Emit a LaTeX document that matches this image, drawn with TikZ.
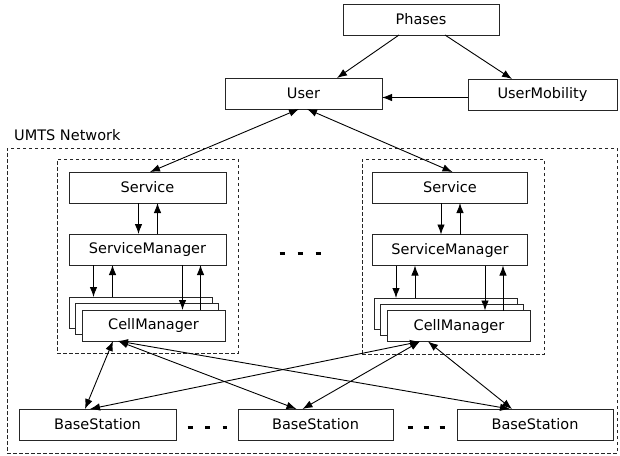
\documentclass[tikz,border=0pt]{standalone}
\usepackage{fontspec}
\setmainfont{DejaVu Sans}
\usetikzlibrary{arrows.meta,calc}
\begin{document}
\begin{tikzpicture}[x=1pt,y=-1pt,
  box/.style={draw=black!85,line width=0.8pt,fill=white,inner sep=0pt,outer sep=0pt,
    minimum height=31pt,font=\fontsize{14.5}{17}\selectfont},
  grp/.style={draw=black!85,line width=0.8pt,dash pattern=on 3.5pt off 2.5pt,
    inner sep=0pt,outer sep=0pt},
  tip/.tip={Latex[length=10pt,width=7.5pt]},
  arr/.style={line width=0.9pt,-tip},
  both/.style={line width=0.9pt,tip-tip},
  ell/.style={line width=3pt,dash pattern=on 5pt off 12.5pt}
]
\useasboundingbox (0,0) rectangle (620,455);
\fill[white] (0,0) rectangle (620,455);

% top
\node[box,minimum width=156pt] (phases) at (421,19.5) {Phases};
\node[box,minimum width=157pt] (user) at (303.5,93.5) {User};
\node[box,minimum width=149pt] (um) at (542.5,94.5) {UserMobility};

% network frame
\node[grp,minimum width=610pt,minimum height=305pt] (umts) at (312,300.5) {};
\node[anchor=west,inner sep=0pt,font=\fontsize{14.5}{17}\selectfont] (umtslabel) at (14,135) {UMTS Network};

% groups
\node[grp,minimum width=181pt,minimum height=194pt] (lgrp) at (147.5,256) {};
\node[grp,minimum width=182pt,minimum height=195pt] (rgrp) at (453,256.5) {};

% left column
\node[box,minimum width=157pt] (lserv) at (147.5,187.5) {Service};
\node[box,minimum width=157pt] (lsm) at (147.5,249.5) {ServiceManager};
\node[box,minimum width=143pt] (lcb) at (140.5,312.5) {};
\node[box,minimum width=143pt] (lcm) at (147,319) {};
\node[box,minimum width=143pt] (lcf) at (153.5,325.5) {CellManager};

% right column
\node[box,minimum width=155pt] (rserv) at (450,187.5) {Service};
\node[box,minimum width=155pt] (rsm) at (450,250) {ServiceManager};
\node[box,minimum width=143pt] (rcb) at (445.5,313.5) {};
\node[box,minimum width=143pt] (rcm) at (452,319.5) {};
\node[box,minimum width=143pt] (rcf) at (459,326) {CellManager};

% base stations
\node[box,minimum width=157pt] (bs1) at (97.5,424.5) {BaseStation};
\node[box,minimum width=155pt] (bs2) at (315.5,424.5) {BaseStation};
\node[box,minimum width=156pt] (bs3) at (535,424.5) {BaseStation};

% ellipses
\coordinate (e1a) at (279.5,253); \coordinate (e1b) at (320.5,253);
\coordinate (e2a) at (187.5,427); \coordinate (e2b) at (227,427);
\coordinate (e3a) at (407.5,427); \coordinate (e3b) at (447,427);
\draw[ell,dash pattern=on 5pt off 13pt] (e1a) -- (e1b);
\draw[ell] (e2a) -- (e2b);
\draw[ell,dash pattern=on 5pt off 11pt] (e3a) -- (e3b);

% top connectors
\draw[arr] ([xshift=-22pt]phases.south) -- ([xshift=33.5pt]user.north);
\draw[arr] ([xshift=24pt]phases.south) -- ([xshift=-30.5pt]um.north);
\draw[arr] ([yshift=-3pt]um.west) -- ([yshift=-3pt]um.west -| user.east);
\draw[both] ([xshift=-4.5pt]user.south) -- ([xshift=2.5pt]lserv.north);
\draw[both] ([xshift=3.5pt]user.south) -- ([xshift=2.5pt]rserv.north);

% internal connectors
\foreach \s in {l,r}{
  \draw[arr] ([xshift=-9pt]\s serv.south) -- ([xshift=-9pt]\s sm.north);
  \draw[arr] ([xshift=10pt]\s sm.north) -- ([xshift=10pt]\s serv.south);
  \draw[arr] ([xshift=-54pt]\s sm.south) -- ([xshift=-54pt]\s sm.south |- \s cb.north);
  \draw[arr] ([xshift=-35pt]\s sm.south |- \s cb.north) -- ([xshift=-35pt]\s sm.south);
  \draw[arr] ([xshift=35pt]\s sm.south) -- ([xshift=35pt]\s sm.south |- \s cf.north);
  \draw[arr] ([xshift=53pt]\s sm.south |- \s cf.north) -- ([xshift=53pt]\s sm.south);
}

% cell manager to base stations
\draw[both] ([xshift=-40.5pt]lcf.south) -- ([xshift=-12.5pt]bs1.north);
\draw[both] ([xshift=-35.5pt]lcf.south) -- ([xshift=-19pt]bs2.north);
\draw[both] ([xshift=-35.5pt]lcf.south) -- ([xshift=-25pt]bs3.north);
\draw[both] ([xshift=-39pt]rcf.south) -- ([xshift=-7.5pt]bs1.north);
\draw[both] ([xshift=-39pt]rcf.south) -- ([xshift=-13pt]bs2.north);
\draw[both] ([xshift=-31pt]rcf.south) -- ([xshift=-23pt]bs3.north);
\end{tikzpicture}
\end{document}
